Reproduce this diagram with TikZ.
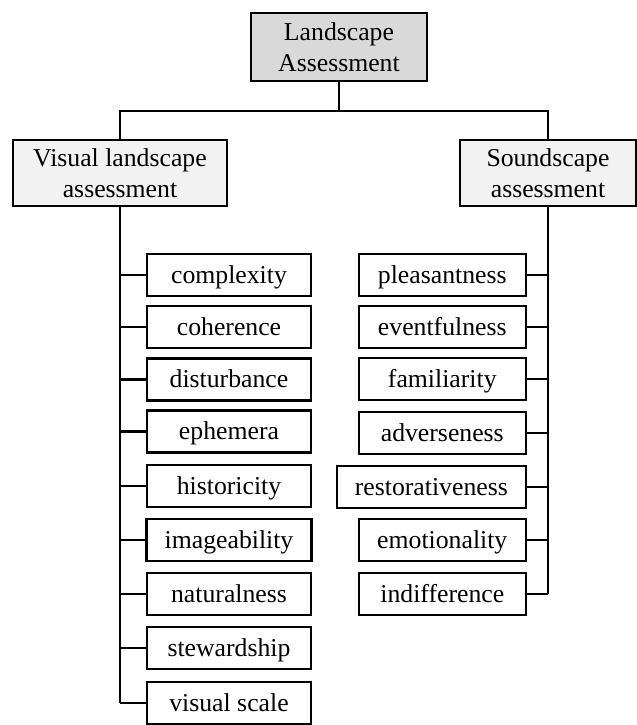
\documentclass[tikz,border=0pt]{standalone}
\usepackage{fontspec}
\setmainfont{Liberation Serif}

\tikzset{
  box/.style={draw, line width=1.7pt, align=center, inner xsep=0.45cm,
    font=\fontsize{18.3}{22}\selectfont},
  itembox/.style={box, minimum width=4.1cm, minimum height=1.05cm, text height=15pt, text depth=3.6pt},
  link/.style={line width=1.7pt}
}

\begin{document}
\begin{tikzpicture}[x=0.025cm, y=-0.025cm]
\useasboundingbox (0,0) rectangle (637,725);

% head and the two branches
\node[box, fill=gray!30, minimum width=4.4cm, minimum height=1.7cm] (top) at (339,47) {Landscape\\Assessment};
\node[box, fill=gray!10, minimum width=5.35cm, minimum height=1.65cm] (visual) at (120,173) {Visual landscape\\assessment};
\node[box, fill=gray!10, minimum width=4.4cm, minimum height=1.65cm] (sound) at (548,173) {Soundscape\\assessment};
\coordinate (split) at (339,111);
\draw[link] (top.south) -- (split);
\draw[link] (visual.north) |- (split) -| (sound.north);

% visual items
\foreach \lbl/\yy [count=\i] in {complexity/275, coherence/327, disturbance/379.5, ephemera/431.5, historicity/486, imageability/540, naturalness/594, stewardship/648, visual scale/703}{
  \node[itembox] (lv\i) at (229,\yy) {\lbl};
  \draw[link] (visual.south |- lv\i.west) -- (lv\i.west);
}
\draw[link] (visual.south) -- (visual.south |- lv9.west);

% soundscape items
\foreach \lbl/\yy [count=\i] in {pleasantness/275, eventfulness/327, familiarity/379, adverseness/433, restorativeness/487, emotionality/540, indifference/594}{
  \node[itembox, minimum width=4.175cm, anchor=east] (sv\i) at (527,\yy) {\lbl};
  \draw[link] (sound.south |- sv\i.east) -- (sv\i.east);
}
\draw[link] (sound.south) -- (sound.south |- sv7.east);
\end{tikzpicture}
\end{document}
